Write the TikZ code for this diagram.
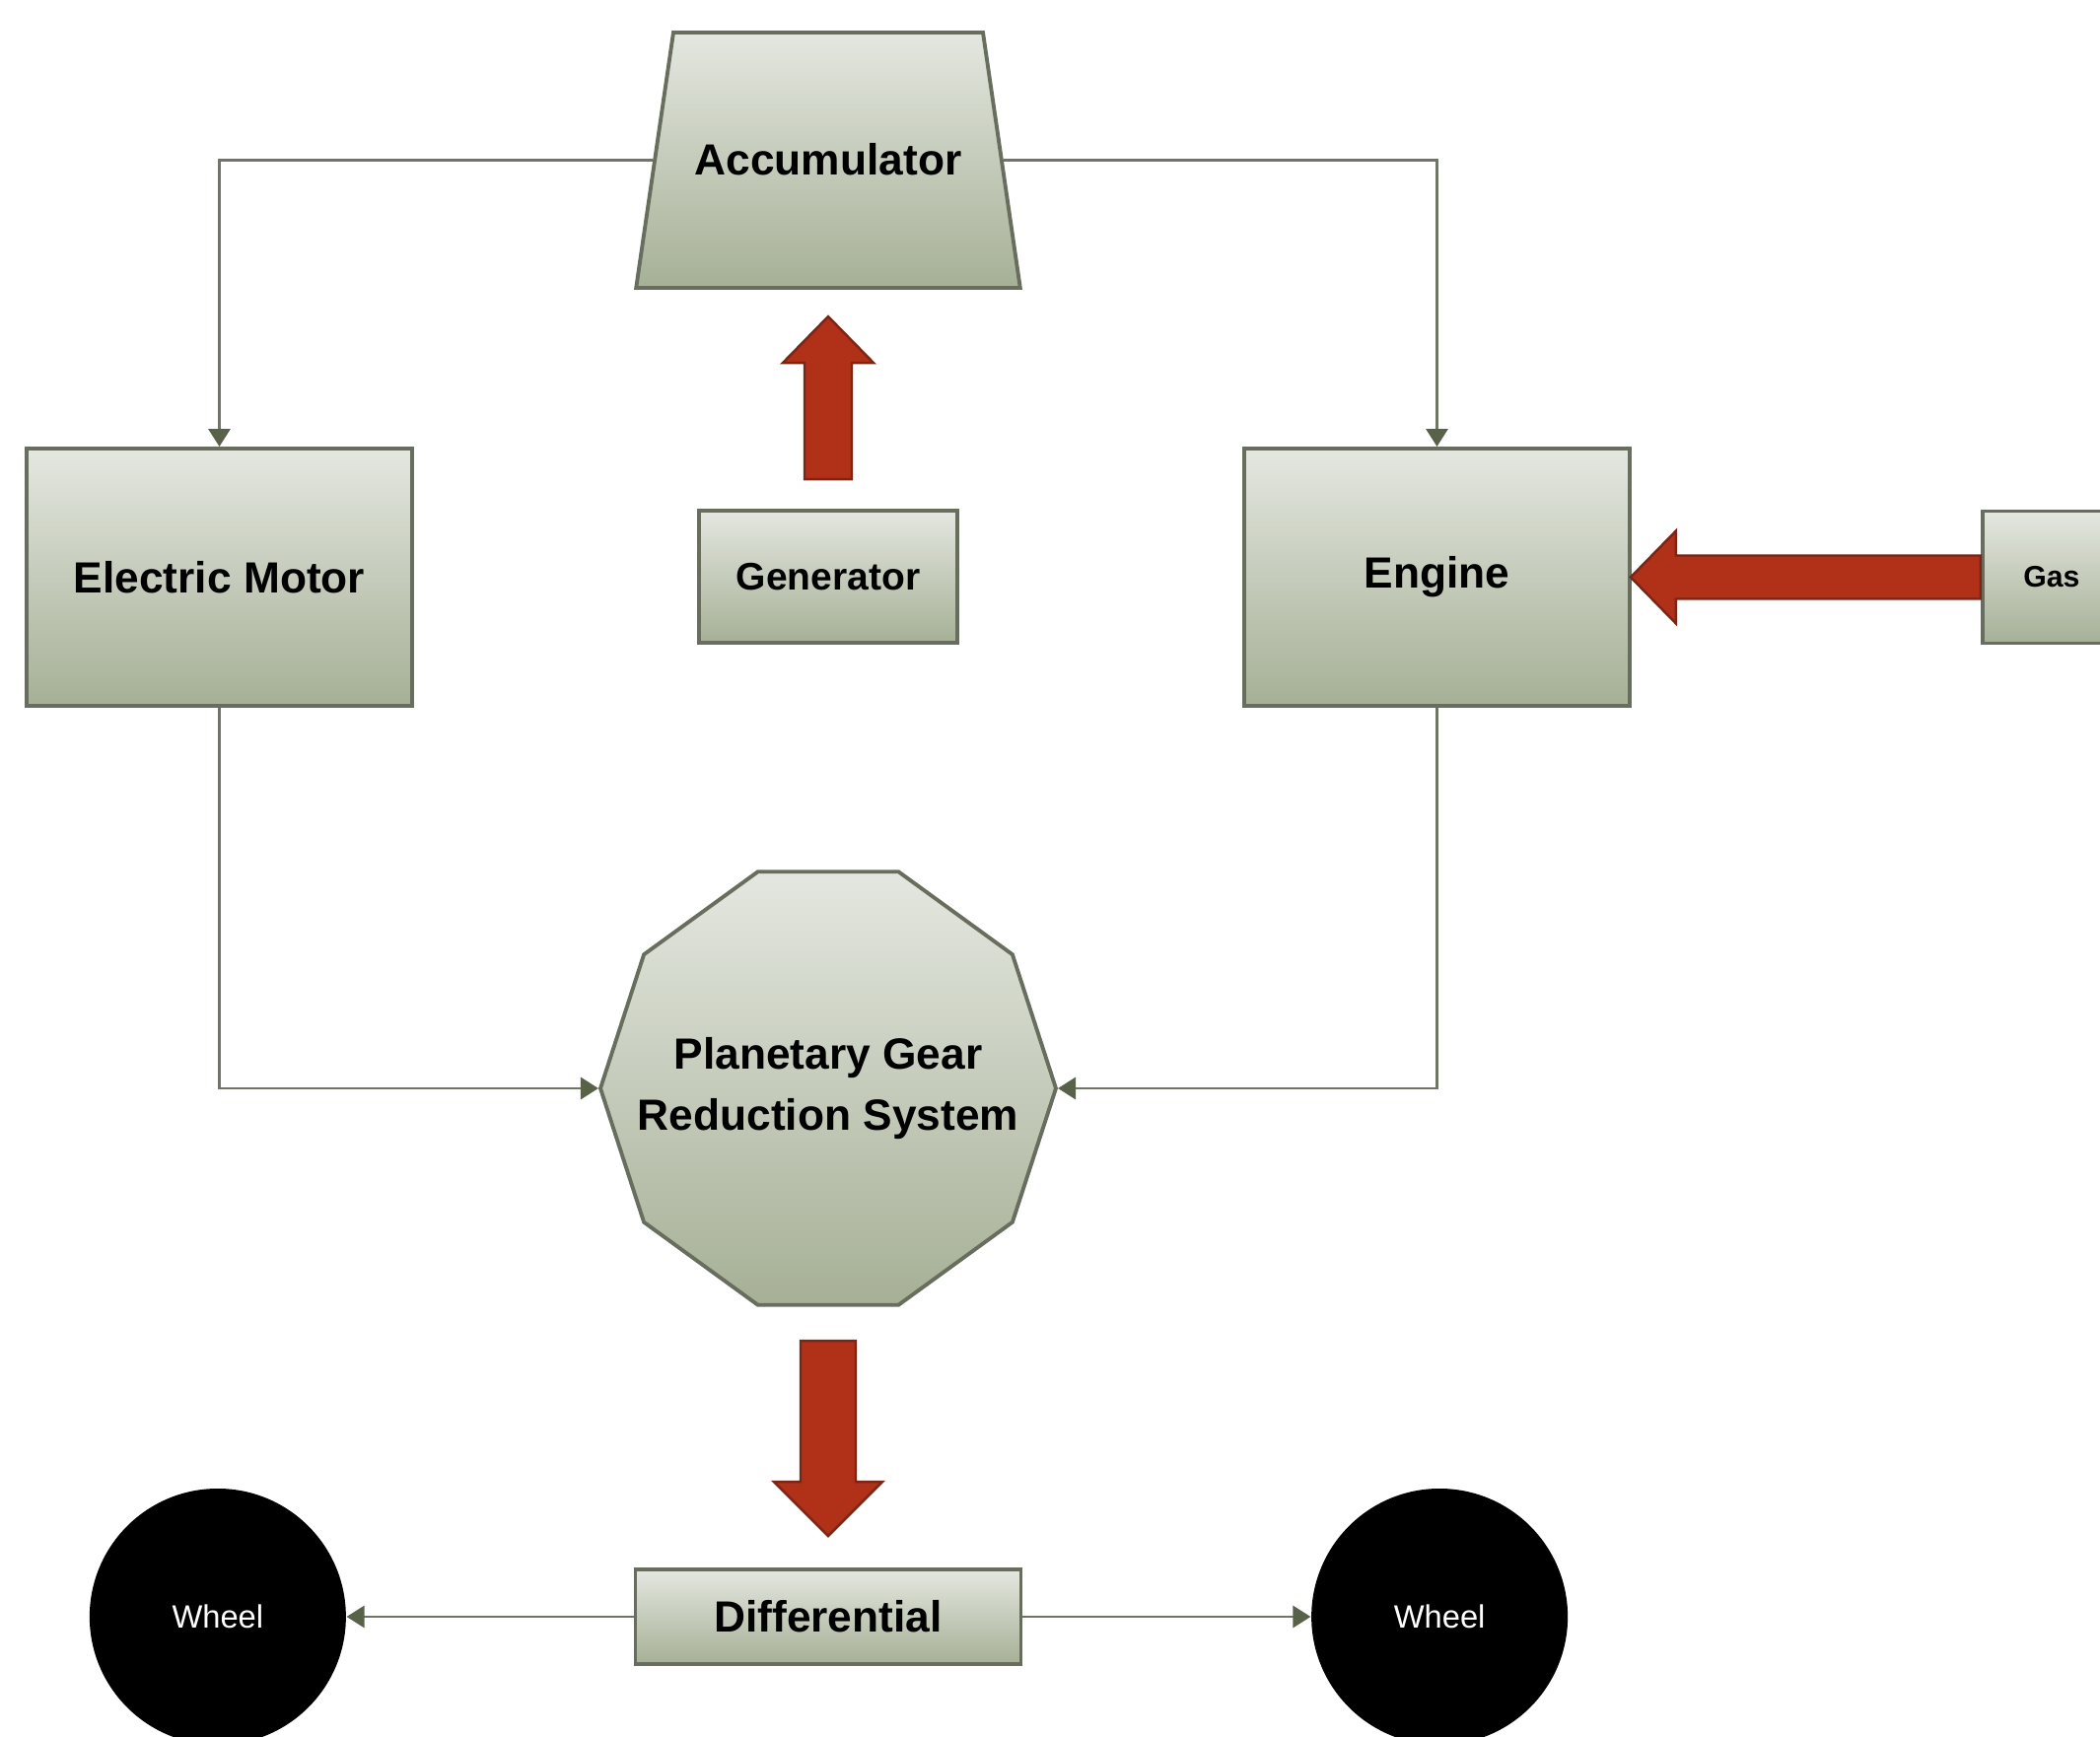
\documentclass[tikz,border=0pt]{standalone}
\usepackage{fontspec}
\setmainfont{Liberation Sans}
\usetikzlibrary{shapes.geometric, arrows}
\usetikzlibrary{positioning}
\usetikzlibrary{arrows.meta}
\definecolor{boxtop}{RGB}{228,231,224}
\definecolor{boxbot}{RGB}{166,176,150}
\definecolor{boxedge}{RGB}{104,110,94}
\definecolor{lineclr}{RGB}{112,118,102}
\definecolor{tipclr}{RGB}{88,98,72}
\definecolor{arrowred}{RGB}{176,48,24}
\definecolor{arrowedge}{RGB}{122,38,22}
\tikzstyle{box} = [rectangle, draw=boxedge, line width=1.1pt, top color=boxtop, bottom color=boxbot,
text centered, font=\bfseries\fontsize{12.6}{17.4}\selectfont]
\tikzstyle{wheel} = [circle, fill=black, minimum size=2.6cm, inner sep=0pt, text=white,
font=\fontsize{9.3}{11}\selectfont]
\tikzstyle{arrow} = [draw=lineclr, line width=0.85pt, -{Triangle[length=0.18cm, width=0.22cm, color=tipclr]}]
\tikzstyle{bigarrow} = [draw=arrowedge, fill=arrowred, line width=0.7pt, line join=miter]

\begin{document}
\begin{tikzpicture}
  \useasboundingbox (0,0) rectangle (21.30,-17.62);

  \node (acc) [box, trapezium, trapezium left angle=81.7, trapezium right angle=81.7,
    inner sep=0pt, text width=3.14cm, text height=1.45cm, text depth=1.14cm] at (8.40,-1.625) {Accumulator};
  \node (em) [box, minimum width=3.91cm, minimum height=2.61cm] at (2.225,-5.855) {Electric Motor};
  \node (gen) [box, minimum width=2.62cm, minimum height=1.34cm,
    font=\bfseries\fontsize{11.1}{13}\selectfont] at (8.40,-5.85) {Generator};
  \node (eng) [box, minimum width=3.91cm, minimum height=2.61cm] at (14.575,-5.855) {Engine};
  \node (gas) [box, right=3.54cm of eng, minimum width=1.40cm, minimum height=1.34cm,
    font=\bfseries\fontsize{8.6}{10}\selectfont] {Gas};
  \node (gear) [box, regular polygon, regular polygon sides=10, minimum size=4.62cm, inner sep=0pt,
    label={[align=center, font=\bfseries\fontsize{12.6}{17.4}\selectfont]center:Planetary Gear\\Reduction System}]
    at (8.40,-11.04) {};
  \node (diff) [box, minimum width=3.91cm, minimum height=0.96cm] at (8.40,-16.40) {Differential};
  \node (wl) [wheel, left=2.91cm of diff] {Wheel};
  \node (wr) [wheel, right=2.92cm of diff] {Wheel};

  \draw[arrow] (acc.west) -| (em.north);
  \draw[arrow] (acc.east) -| (eng.north);
  \draw[arrow] (em.south) |- (gear.west);
  \draw[arrow] (eng.south) |- (gear.east);
  \draw[arrow] (diff.west) -- (wl.east);
  \draw[arrow] (diff.east) -- (wr.west);

  % block arrows
  \draw[bigarrow] (gen.north) ++(-0.24,0.30) -- ++(0,1.18) -- ++(-0.22,0) -- ++(0.46,0.47)
  -- ++(0.46,-0.47) -- ++(-0.22,0) -- ++(0,-1.18) -- cycle;
  \draw[bigarrow] (gas.west) ++(0,0.22) -- ++(-3.09,0) -- ++(0,0.25) -- ++(-0.46,-0.47)
  -- ++(0.46,-0.47) -- ++(0,0.25) -- ++(3.09,0) -- cycle;
  \draw[bigarrow] (diff.north) ++(-0.28,2.30) -- ++(0,-1.43) -- ++(-0.27,0) -- ++(0.55,-0.55)
  -- ++(0.55,0.55) -- ++(-0.27,0) -- ++(0,1.43) -- cycle;
\end{tikzpicture}
\end{document}
